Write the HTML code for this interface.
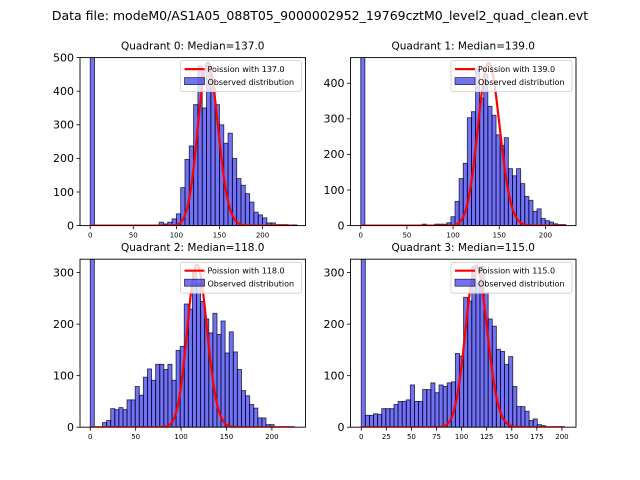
<!DOCTYPE html>
<html><head><meta charset="utf-8"><style>
body{margin:0;background:#fff;}
svg{display:block;font-family:"DejaVu Sans","Liberation Sans",sans-serif;}
</style></head><body>
<svg id="fig" width="640" height="480" viewBox="0 0 640 480">
<rect width="640" height="480" fill="#fff"/>
<text x="320" y="20" text-anchor="middle" font-size="12.5">Data file: modeM0/AS1A05_088T05_9000002952_19769cztM0_level2_quad_clean.evt</text>
</svg>
<script>
// ---- data ----
const titles = ["Quadrant 0: Median=137.0","Quadrant 1: Median=139.0","Quadrant 2: Median=118.0","Quadrant 3: Median=115.0"];
const lambdas = [137.0, 139.0, 118.0, 115.0];
const poissonPeaks = [485, 457, 315, 313];
const poissonMax = [235, 222, 225, 203];
const binWidths = [5, 4.44, 4.5, 4.08];
const counts0 = [1500,0,0,0,0,0,0,0,0,0,0,0,0,0,0,2,10,5,10,20,35,113,197,237,360,475,350,475,410,360,300,245,275,200,140,120,95,70,40,32,23,8,8,3,3,3,2,2];
const counts1 = [1500,0,0,0,0,0,0,0,0,0,0,0,0,0,0,4,0,0,4,4,4,8,25,68,132,175,303,320,439,358,425,335,310,255,225,247,160,140,160,118,82,71,40,47,20,14,10,5,3,3];
const counts2 = [1500,0,0,9,13,36,34,38,34,53,53,79,62,97,113,91,122,122,112,122,91,149,157,239,229,300,279,244,210,183,221,180,206,144,185,146,112,71,61,44,37,18,18,5,5];
const counts3 = [1500,23,23,26,25,36,36,36,44,50,50,53,82,50,50,73,73,86,67,82,79,86,88,143,138,252,245,312,279,312,261,210,196,151,147,122,137,79,40,40,31,13,16,5,3];
const allCounts = [counts0, counts1, counts2, counts3];
const xTicks0 = [0,50,100,150,200];
const xTicks3 = [0,25,50,75,100,125,150,175,200];
const yTicks0 = [0,100,200,300,400,500];
const yTicks1 = [0,100,200,300,400];
const yTicks23 = [0,100,200,300];
const xLims = [[-11.9,249.9],[-11.1,233.1],[-11.3,237],[-10.7,214]];
const yMaxs = [500, 472, 326, 326];

const NS = "http://www.w3.org/2000/svg";
const svg = document.getElementById("fig");
function mk(tag, attrs, parent){const e=document.createElementNS(NS,tag);for(const k in attrs)e.setAttribute(k,attrs[k]);(parent||svg).appendChild(e);return e;}
function lnFact(k){let s=0;for(let i=2;i<=k;i++)s+=Math.log(i);return s;}

const boxes = [[80,57.6,305.5,225.6],[350.5,57.6,576,225.6],[80,259.2,305.5,427.2],[350.5,259.2,576,427.2]];
const xTickSets = [xTicks0,xTicks0,xTicks0,xTicks3];
const yTickSets = [yTicks0,yTicks1,yTicks23,yTicks23];

for(let p=0;p<4;p++){
  const [L,T,R,B]=boxes[p];
  const g=mk("g",{});
  
  
  const [xa,xb]=xLims[p];
  const X=v=>L+(v-xa)/(xb-xa)*(R-L);
  const Y=v=>B-v/yMaxs[p]*(B-T);
  const cid="clip"+p;
  const cp=mk("clipPath",{id:cid},g);mk("rect",{x:L,y:T,width:R-L,height:B-T},cp);
  const bars=mk("g",{"clip-path":"url(#"+cid+")"},g);
  const c=allCounts[p], w=binWidths[p];
  c.forEach((v,i)=>{
    if(v<=0)return;
    const r=mk("rect",{x:X(i*w),y:Y(v),width:X((i+1)*w)-X(i*w),height:B-Y(v),fill:"rgba(0,0,230,0.55)",stroke:"rgba(0,0,40,0.75)","stroke-width":0.9},bars);
    
    
  });
  const lam=lambdas[p];let pts=[],mx=0,vals=[];
  for(let k=0;k<=poissonMax[p];k++){const v=Math.exp(k*Math.log(lam)-lam-lnFact(k));vals.push(v);if(v>mx)mx=v;}
  vals.forEach((v,k)=>pts.push(X(k).toFixed(2)+","+Y(v/mx*poissonPeaks[p]).toFixed(2)));
  const pl=mk("polyline",{points:pts.join(" "),fill:"none",stroke:"#ff0000","stroke-width":2.2,"stroke-linejoin":"round"},bars);
  
  
  const fr=mk("rect",{x:L,y:T,width:R-L,height:B-T,fill:"none",stroke:"#000","stroke-width":0.9},g);
  
  
  xTickSets[p].forEach(t=>{
    const x=X(t);mk("line",{x1:x,x2:x,y1:B,y2:B+3.5,stroke:"#000","stroke-width":0.8},g);
    const tx=mk("text",{x:x,y:B+12,"text-anchor":"middle","font-size":7},g);tx.textContent=t;
    
    
  });
  yTickSets[p].forEach(t=>{
    const y=Y(t);mk("line",{x1:L-3.5,x2:L,y1:y,y2:y,stroke:"#000","stroke-width":0.8},g);
    const ty=mk("text",{x:L-6,y:y+3.8,"text-anchor":"end","font-size":11},g);ty.textContent=t;
    
    
  });
  const tt=mk("text",{x:(L+R)/2,y:T-8,"text-anchor":"middle","font-size":10.5},g);tt.textContent=titles[p];
  
  
  const lg=mk("g",{},g);
  
  
  const lx=R-125,ly=T+3;
  mk("rect",{x:lx,y:ly,width:121,height:31,rx:2,fill:"rgba(255,255,255,0.8)",stroke:"#ccc","stroke-width":0.8},lg);
  mk("line",{x1:lx+4,x2:lx+24,y1:ly+8.5,y2:ly+8.5,stroke:"#ff0000","stroke-width":2.2},lg);
  const t1=mk("text",{x:lx+27,y:ly+11.5,"font-size":8},lg);t1.textContent="Poission with "+lambdas[p].toFixed(1);
  
  
  mk("rect",{x:lx+4,y:ly+17,width:20,height:7,fill:"rgba(0,0,230,0.55)",stroke:"rgba(0,0,40,0.75)","stroke-width":0.8},lg);
  const t2=mk("text",{x:lx+27,y:ly+24.5,"font-size":8},lg);t2.textContent="Observed distribution";
  
  
}
</script>
</body></html>
